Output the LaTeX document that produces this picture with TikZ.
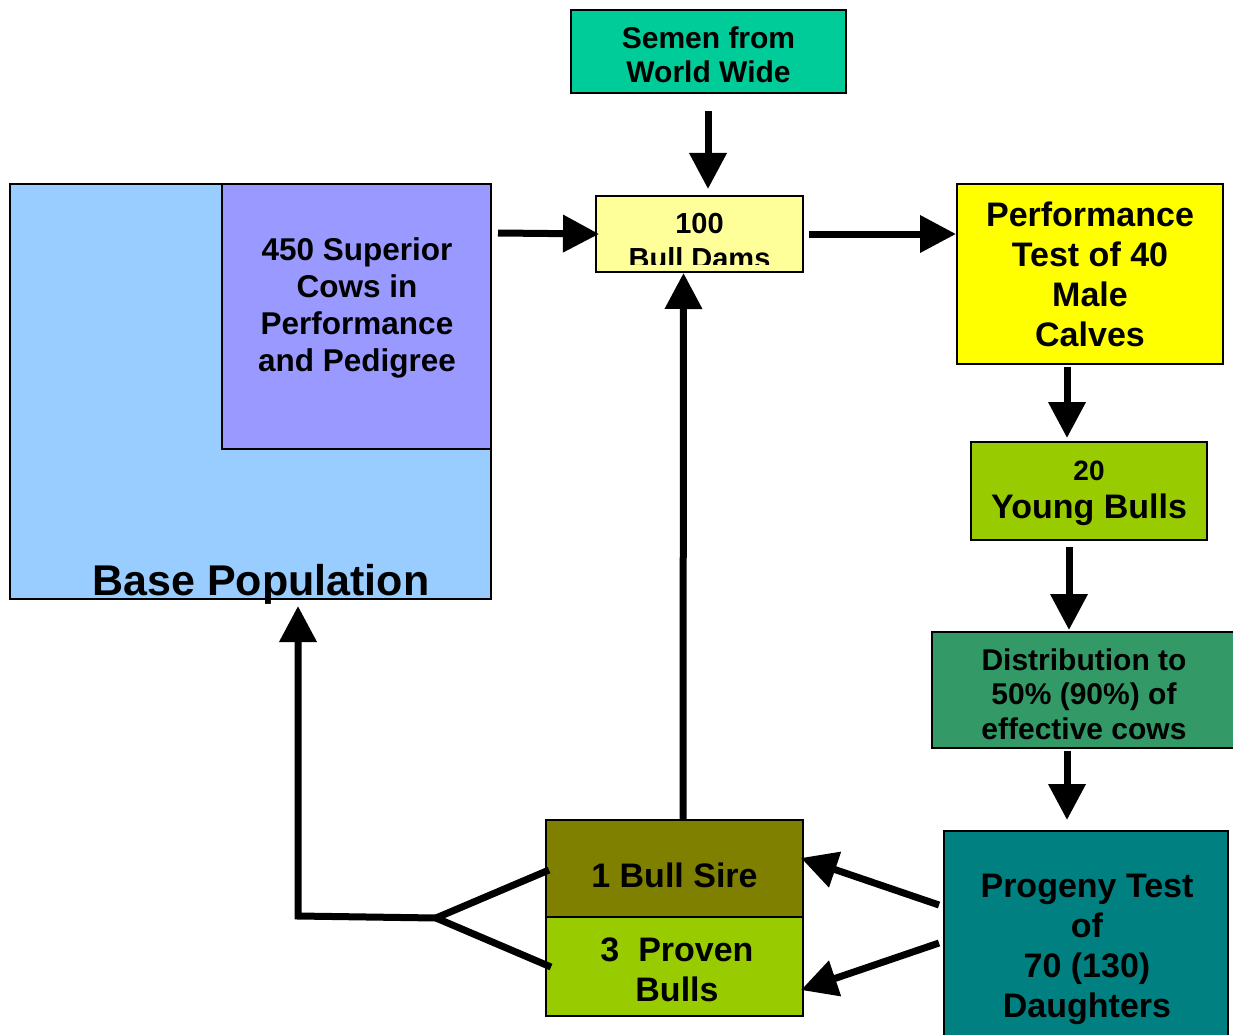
\documentclass[tikz,border=0pt]{standalone}
\usepackage{fontspec}
\setmainfont{Liberation Sans}
\usetikzlibrary{arrows.meta}
\definecolor{cSemen}{HTML}{00CC99}
\definecolor{cDams}{HTML}{FFFF99}
\definecolor{cPerf}{HTML}{FFFF00}
\definecolor{cYoung}{HTML}{99CC00}
\definecolor{cDist}{HTML}{339966}
\definecolor{cProg}{HTML}{008080}
\definecolor{cSire}{HTML}{808000}
\definecolor{cBase}{HTML}{99CCFF}
\definecolor{cSup}{HTML}{9999FF}
\begin{document}
\begin{tikzpicture}[x=1pt,y=-1pt,
  box/.style={draw=black, line width=2pt, inner sep=0pt, align=center},
  txt/.style={inner sep=0pt, align=center},
  fA/.style={font=\bfseries\fontsize{34}{40}\selectfont},
  fB/.style={font=\bfseries\fontsize{31.5}{37}\selectfont},
  fC/.style={font=\bfseries\fontsize{30}{34.5}\selectfont},
  fD/.style={font=\bfseries\fontsize{29}{35}\selectfont},
  arr/.style={line width=7pt, -{Triangle[width=36pt,length=36pt]}},
  ln/.style={line width=7pt}]
\useasboundingbox (0,0) rectangle (1233,1035);

% boxes
\node[box, fill=cBase, minimum width=481pt, minimum height=415pt] (base) at (250.5,391.5) {};
\node[box, fill=cSup, minimum width=269pt, minimum height=265pt] (sup) at (356.5,316.5) {};
\node[txt, fB] (suptext) at (357,308) {450 Superior\\Cows in\\Performance\\and Pedigree};
\node[anchor=base, font=\bfseries\fontsize{43}{50}\selectfont] (basetext) at (261,595) {Base Population};

\node[box, fill=cSemen, minimum width=275pt, minimum height=83pt] (semen) at (708.5,51.5) {};
\node[txt, fC] (semtext) at (708.5,55) {Semen from\\World Wide};

\node[box, fill=cDams, minimum width=207pt, minimum height=76pt] (dams) at (699.5,234) {};
\begin{scope}
\clip (597,197) rectangle (802,264);
\node[txt, fD] (damstext) at (699.5,241.5) {100\\Bull Dams};
\end{scope}

\node[box, fA, fill=cPerf, minimum width=266pt, minimum height=180pt] (perf) at (1090,274) {Performance\\Test of 40\\Male\\Calves};
\node[box, fill=cYoung, minimum width=236pt, minimum height=98pt] (young) at (1089,491) {};
\node[txt, font=\bfseries\fontsize{34}{38}\selectfont] (youngtext) at (1089,493)
  {{\fontsize{28}{34}\selectfont 20}\\Young Bulls};
\node[box, fill=cDist, minimum width=308pt, minimum height=116pt] (dist) at (1086,690) {};
\node[txt, fC] (disttext) at (1084,694) {Distribution to\\50\% (90\%) of\\effective cows};
\node[box, fill=cProg, minimum width=284pt, minimum height=229pt] (prog) at (1086,945.5) {};
\node[txt, fA] (progtext) at (1087,949) {Progeny Test\\of\\70 (130)\\Daughters};
\node[box, fill=cSire, minimum width=257pt, minimum height=97pt] (sire) at (674.5,868.5) {};
\node[txt, fA] (siretext) at (674.5,875) {1 Bull Sire};
\node[box, fill=cYoung, minimum width=257pt, minimum height=99pt] (proven) at (674.5,966.5) {};
\node[txt, fA] (proventext) at (677,970) {3\ \ Proven\\Bulls};

% connectors
\draw[arr] ([xshift=-0.5pt,yshift=-17pt]semen.south) -- ([xshift=8.5pt,yshift=6pt]dams.north);
\draw[arr] ([xshift=6pt,yshift=-50pt]sup.north east) -- ([xshift=4pt]dams.west);
\draw[arr] ([xshift=5pt]dams.east) -- ([yshift=40pt]perf.west);
\draw[arr] ([xshift=-23pt,yshift=-2pt]perf.south) -- ([xshift=-22pt,yshift=3pt]young.north);
\draw[arr] ([xshift=-20pt,yshift=-6pt]young.south) -- ([xshift=-17pt,yshift=1pt]dist.north);
\draw[arr] ([xshift=-19pt,yshift=-2pt]dist.south) -- ([xshift=-19pt,yshift=10pt]prog.north);
\draw[arr] ([xshift=8.5pt]sire.north) -- ([xshift=-16pt]dams.south);
\draw[arr] ([xshift=-4pt,yshift=40.5pt]prog.west) -- ([xshift=-3pt,yshift=10.5pt]sire.east);
\draw[arr] ([xshift=-4pt,yshift=2.5pt]prog.west) -- ([xshift=-3pt,yshift=-23.5pt]proven.east);

\coordinate (j) at (436,918);
\coordinate (c) at (298,916);
\draw[ln] ([xshift=4pt,yshift=-1.5pt]sire.west) -- (j);
\draw[ln] ([xshift=6pt,yshift=-0.5pt]proven.west) -- (j);
\draw[arr] (j) -- (c) -- ([xshift=47.5pt,yshift=-6pt]base.south);
\end{tikzpicture}
\end{document}
